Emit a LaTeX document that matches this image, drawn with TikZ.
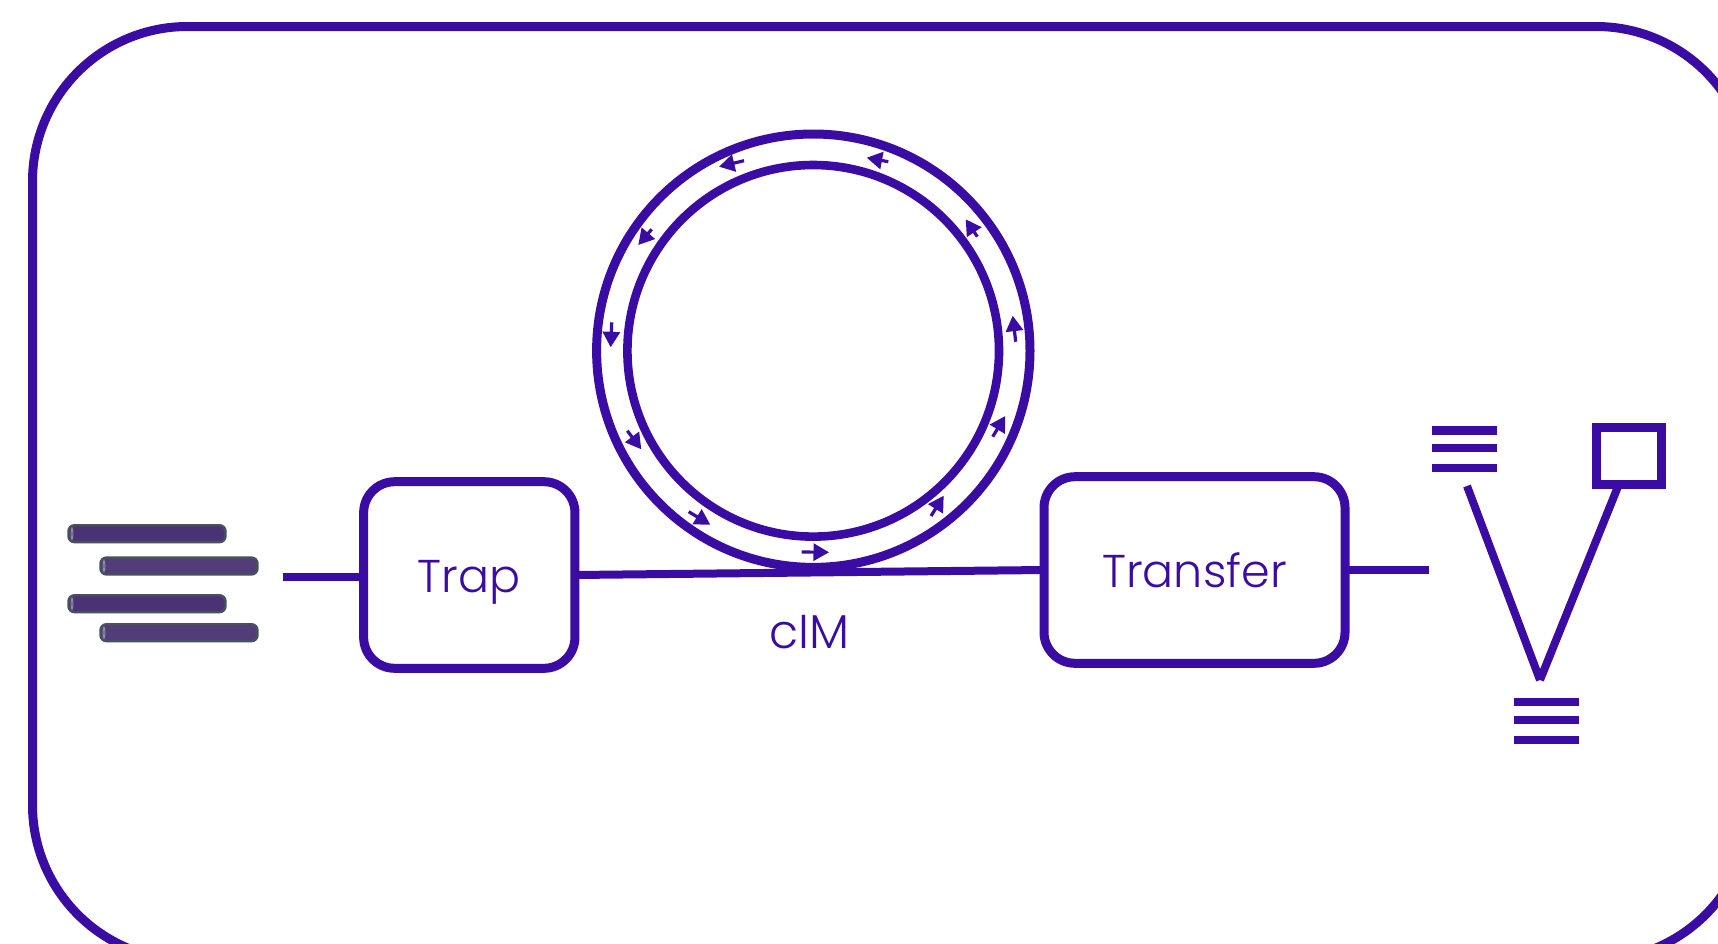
\documentclass[tikz,border=0pt]{standalone}
\usepackage{fontspec}
\setmainfont{Poppins Light}
\usetikzlibrary{arrows.meta}
\definecolor{vio}{HTML}{3A0CA3}
\definecolor{rodA}{HTML}{4B3274}
\definecolor{rodB}{HTML}{523D78}
\definecolor{rodE}{HTML}{46505F}
\definecolor{rodH}{HTML}{8C93A0}
\tikzset{
  wire/.style={draw=vio,line width=8.8pt},
  frame/.style={draw=vio,line width=9pt,rounded corners=155pt},
  block/.style={draw=vio,line width=9pt,rounded corners=31pt,rectangle,outer sep=0pt,inner sep=0pt,text=vio,font=\fontsize{46}{46}\selectfont,text depth=0pt,text height=35pt},
  ring/.style={draw=vio,circle,outer sep=0pt,inner sep=0pt},
  flowarrow/.style={draw=vio,line width=3.2pt,-{Triangle[length=15.5pt,width=17pt]}},
  rod/.style={rectangle,draw=rodE,line width=2.4pt,rounded corners=6pt,minimum width=157pt,minimum height=16.9pt,outer sep=0pt,inner sep=0pt},
  rodcap/.style={draw=rodH,line width=1pt},
  levelbar/.style={draw=vio,line width=8.8pt},
  statebox/.style={rectangle,draw=vio,line width=9pt,minimum width=65pt,minimum height=57pt,outer sep=0pt,inner sep=0pt},
  label/.style={text=vio,font=\fontsize{47.5}{47.5}\selectfont,inner sep=0pt}
}
\begin{document}
\begin{tikzpicture}[x=1pt,y=-1pt]
\useasboundingbox (0,0) rectangle (1718,943);
\clip (0,0) rectangle (1718,943);
\draw[frame] (32.5,26.5) rectangle (1751,960);
% rods
\node[rod,fill=rodA] (rodA1) at (147,533.7) {};
\node[rod,fill=rodB] (rodB1) at (179,566) {};
\node[rod,fill=rodA] (rodA2) at (147,603.7) {};
\node[rod,fill=rodB] (rodB2) at (179,632.7) {};
\foreach \r in {rodA1,rodB1,rodA2,rodB2}{
  \draw[rodcap] ([xshift=3.5pt]\r.west) ellipse (0.9pt and 5.5pt);
}
% rings
\node[ring,line width=9pt,minimum size=433.4pt] (outer) at (813.3,350.7) {};
\node[ring,line width=8.6pt,minimum size=371.6pt] (inner) at (813.2,350.8) {};
% blocks
\node[block,minimum width=211.3pt,minimum height=186.6pt] (trap) at (469.3,575) {Trap};
\node[block,minimum width=301pt,minimum height=186.6pt] (transfer) at (1194.5,570) {Transfer};
\node[label,anchor=base] (cim) at (809,648.5) {cIM};
% wires
\coordinate (inA) at (282.7,577);
\coordinate (outA) at (1428.7,570);
\draw[wire] (inA) -- (trap.west |- inA);
\draw[wire,line width=8pt] (trap.east) -- (transfer.west);
\draw[wire] (transfer.east) -- (outA);
% flow arrows
\foreach \a/\b/\c/\d in {
  611.7/322.3/610.7/347.3, 651.7/229.3/638.3/245, 744/160.7/719/166.7,
  888.3/161.7/866.7/157.7, 977.3/236.7/965.7/219.3, 1015.7/341.7/1012.7/315.7,
  627.3/430.7/641.3/449.3, 688.7/511.7/710.3/524.7, 801.7/552/829/552.3,
  931/516/943.7/495.7, 992.7/436.7/1005.3/416}{
  \draw[flowarrow] (\a,\b) -- (\c,\d);
}
% level diagram
\foreach \y in {430.3,448,468}{ \draw[levelbar] (1431.7,\y) -- (1497,\y); }
\foreach \y in {702,720,740}{ \draw[levelbar] (1514,\y) -- (1579,\y); }
\node[statebox] (state) at (1629,455.5) {};
\coordinate (g) at (1467,486);
\coordinate (v) at (1540,680);
\coordinate (s) at (1619,484);
\draw[wire,line width=8pt] (g) -- (v);
\draw[wire,line width=8pt] (v) -- (s);
\end{tikzpicture}
\end{document}
